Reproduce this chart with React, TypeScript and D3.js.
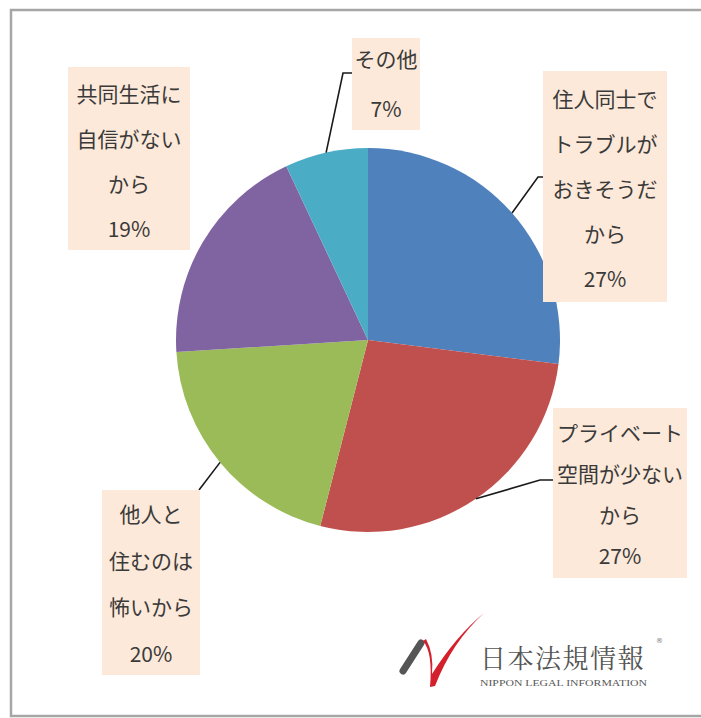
import React from "react";
import * as d3 from "d3";

const categories: string[][] = [
  ["住人同士で", "トラブルが", "おきそうだ", "から"],
  ["プライベート", "空間が少ない", "から"],
  ["他人と", "住むのは", "怖いから"],
  ["共同生活に", "自信がない", "から"],
  ["その他"],
];
const values: number[] = [27, 27, 20, 19, 7];
const colors: string[] = ["#4F81BD", "#C0504D", "#9BBB59", "#8064A2", "#4BACC6"];

// layout of label boxes (index matches categories)
const boxes = [
  { x: 543, y: 71, w: 124, h: 231, first: 98, gap: 45, leader: [[538, 177], [543, 177]] },
  { x: 553, y: 408, w: 134, h: 170, first: 432, gap: 41, leader: [[540, 480], [553, 480]] },
  { x: 102, y: 490, w: 98, h: 185, first: 513, gap: 46.7, leader: [[199, 490]] },
  { x: 68, y: 67, w: 122, h: 183, first: 93, gap: 45, leader: null },
  { x: 352, y: 38, w: 68, h: 92, first: 58, gap: 50, leader: [[343, 73], [352, 73]] },
];

const cx = 368;
const cy = 340;
const R = 192;

export default function App() {
  const pie = d3
    .pie<number>()
    .sort(null)
    .value((d) => d)
    .startAngle(0)
    .endAngle(2 * Math.PI);
  const arcs = pie(values);
  const arc = d3.arc<d3.PieArcDatum<number>>().innerRadius(0).outerRadius(R);
  const font = "'Noto Sans CJK JP', 'Noto Sans', sans-serif";

  return (
    <svg
      width={701}
      height={718}
      style={{ position: "absolute", left: 0, top: 0, background: "#fff" }}
    >
      <rect x={11} y={10} width={700} height={706} fill="#fff" stroke="#a6a6a6" strokeWidth={2.5} />
      <g transform={`translate(${cx},${cy})`}>
        {arcs.map((a, i) => (
          <path key={i} d={arc(a) || ""} fill={colors[i]} />
        ))}
      </g>
      {arcs.map((a, i) => {
        const b = boxes[i];
        if (!b.leader) return null;
        const mid = (a.startAngle + a.endAngle) / 2;
        const sx = cx + R * Math.sin(mid);
        const sy = cy - R * Math.cos(mid);
        const pts: [number, number][] = [[sx, sy], ...(b.leader as [number, number][])];
        return (
          <path
            key={"l" + i}
            d={d3.line()(pts) || ""}
            fill="none"
            stroke="#1a1a1a"
            strokeWidth={1.6}
          />
        );
      })}
      {categories.map((lines, i) => {
        const b = boxes[i];
        const all = [...lines, `${values[i]}%`];
        return (
          <g key={"b" + i}>
            <rect x={b.x} y={b.y} width={b.w} height={b.h} fill="#FDE9D9" />
            {all.map((t, j) => (
              <text
                key={j}
                x={b.x + b.w / 2}
                y={b.first + j * b.gap}
                textAnchor="middle"
                dominantBaseline="central"
                fontFamily={font}
                fontSize={21}
                fill="#3a3a3a"
              >
                {t}
              </text>
            ))}
          </g>
        );
      })}
      {/* logo */}
      <g>
        <line x1={403} y1={671} x2={421} y2={643} stroke="#555" strokeWidth={7} strokeLinecap="round" />
        <path
          d="M423,641 Q433,652 430,687 L435,686 Q452,642 484,613 Q456,636 432,674 Q434,654 426,639 Z"
          fill="#d4202c"
        />
        <text x={480} y={668} fontFamily="'Noto Serif CJK JP', 'Noto Sans CJK JP', serif" fontSize={26} fill="#555" letterSpacing={1.5}>
          日本法規情報
        </text>
        <text x={656} y={643} fontFamily="'DejaVu Sans', sans-serif" fontSize={7} fill="#777">
          ®
        </text>
        <text x={480} y={686} fontFamily="'Liberation Serif', serif" fontSize={9} fill="#555" textLength={167} lengthAdjust="spacingAndGlyphs">
          NIPPON LEGAL INFORMATION
        </text>
      </g>
    </svg>
  );
}
